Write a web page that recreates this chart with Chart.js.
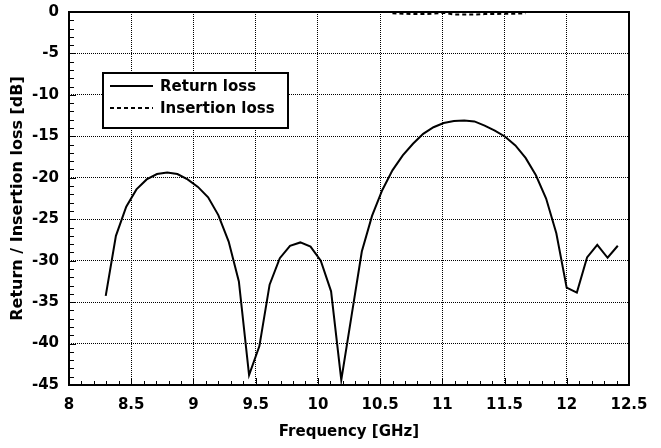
<!DOCTYPE html>
<html>
<head>
<meta charset="utf-8">
<script src="https://cdn.jsdelivr.net/npm/chart.js@4"></script>
<style>
  html, body { margin: 0; padding: 0; background: #fff; }
  #wrap { width: 661px; height: 448px; }
</style>
</head>
<body>
<div id="wrap"><canvas id="chart"></canvas></div>
<script>
// Frequency points [GHz]
const freq = [8.295, 8.377, 8.460, 8.542, 8.624, 8.707, 8.789, 8.871, 8.953, 9.036,
              9.118, 9.200, 9.283, 9.365, 9.447, 9.530, 9.612, 9.694, 9.776, 9.859,
              9.941, 10.023, 10.106, 10.188, 10.270, 10.353, 10.435, 10.517, 10.599, 10.682,
              10.764, 10.846, 10.929, 11.011, 11.093, 11.176, 11.258, 11.340, 11.422, 11.505,
              11.587, 11.669, 11.752, 11.834, 11.916, 11.999, 12.081, 12.163, 12.245, 12.328,
              12.410];

// Return loss [dB]
const returnLoss = [-34.25, -27.0, -23.5, -21.4, -20.2, -19.55, -19.35, -19.55, -20.2, -21.1,
                    -22.35, -24.5, -27.7, -32.5, -43.8, -40.3, -32.9, -29.7, -28.2, -27.8,
                    -28.3, -30.0, -33.7, -44.4, -36.7, -28.9, -24.6, -21.5, -19.1, -17.3,
                    -15.9, -14.7, -13.9, -13.4, -13.15, -13.1, -13.2, -13.7, -14.3, -15.05,
                    -16.1, -17.6, -19.7, -22.5, -26.7, -33.25, -33.85, -29.6, -28.1, -29.65,
                    -28.2];

// Insertion loss [dB], only measured in the passband
const insFreq = [10.599, 10.682, 10.764, 10.846, 10.929, 11.011, 11.093, 11.176, 11.258, 11.340,
                 11.422, 11.505, 11.587, 11.669];
const insertionLoss = [-0.15, -0.2, -0.25, -0.25, -0.2, -0.1, -0.3, -0.3, -0.3, -0.25,
                       -0.25, -0.2, -0.2, -0.15];

const FONT = '"DejaVu Sans", Verdana, sans-serif';

// Frame, inward ticks and the boxed legend
const decorations = {
    id: 'decorations',
    afterDraw(chart) {
        const ctx = chart.ctx;
        const area = chart.chartArea;
        const xs = chart.scales.x;
        const ys = chart.scales.y;
        ctx.save();
        ctx.strokeStyle = '#000';
        ctx.lineWidth = 1;
        ctx.beginPath();
        for (let i = 80; i <= 125; i++) {
            const px = Math.round(xs.getPixelForValue(i / 10)) + 0.5;
            const len = i % 5 === 0 ? 7 : 4;
            ctx.moveTo(px, area.bottom);
            ctx.lineTo(px, area.bottom - len);
        }
        for (let v = -45; v <= 0; v++) {
            const py = Math.round(ys.getPixelForValue(v)) + 0.5;
            const len = v % 5 === 0 ? 7 : 5;
            ctx.moveTo(area.left, py);
            ctx.lineTo(area.left + len, py);
        }
        ctx.stroke();

        ctx.lineWidth = 2;
        ctx.strokeRect(area.left, area.top, area.right - area.left, area.bottom - area.top);

        // legend box
        const bx = area.left + 34, by = area.top + 61, bw = 185, bh = 55;
        ctx.fillStyle = '#fff';
        ctx.fillRect(bx, by, bw, bh);
        ctx.strokeRect(bx, by, bw, bh);
        ctx.font = 'bold 15px ' + FONT;
        ctx.textBaseline = 'middle';
        chart.data.datasets.forEach((ds, i) => {
            const y = by + 13 + i * 22;
            ctx.beginPath();
            ctx.setLineDash(ds.borderDash || []);
            ctx.lineWidth = 2;
            ctx.moveTo(bx + 7, y);
            ctx.lineTo(bx + 50, y);
            ctx.stroke();
            ctx.setLineDash([]);
            ctx.fillStyle = '#000';
            ctx.fillText(ds.label, bx + 57, y + 1);
        });
        ctx.restore();
    }
};

const ctx = document.getElementById('chart').getContext('2d');
new Chart(ctx, {
    type: 'line',
    data: {
        datasets: [{
            label: 'Return loss',
            data: freq.map((f, i) => ({ x: f, y: returnLoss[i] })),
            borderColor: '#000',
            borderWidth: 2,
            pointRadius: 0,
            tension: 0,
            fill: false
        }, {
            label: 'Insertion loss',
            data: insFreq.map((f, i) => ({ x: f, y: insertionLoss[i] })),
            borderColor: '#000',
            borderWidth: 2,
            borderDash: [4, 3],
            pointRadius: 0,
            tension: 0,
            fill: false
        }]
    },
    options: {
        responsive: true,
        maintainAspectRatio: false,
        animation: false,
        layout: { padding: { top: 12, right: 32, left: 0, bottom: 0 } },
        plugins: {
            legend: { display: false },
            tooltip: { enabled: false }
        },
        scales: {
            x: {
                type: 'linear',
                min: 8,
                max: 12.5,
                afterFit(scale) {
                    scale.height = 63;
                    scale.paddingLeft = 0;
                    scale.paddingRight = 0;
                },
                ticks: {
                    stepSize: 0.5,
                    padding: 11,
                    color: '#000',
                    font: { family: FONT, size: 15, weight: 'bold' },
                    maxRotation: 0,
                    callback: v => String(Number(v))
                },
                grid: {
                    color: '#000',
                    lineWidth: 1,
                    drawTicks: false
                },
                border: { display: false, dash: [1, 1] },
                title: {
                    display: true,
                    text: 'Frequency [GHz]',
                    color: '#000',
                    font: { family: FONT, size: 15, weight: 'bold' },
                    padding: { top: 0, bottom: 7 }
                }
            },
            y: {
                min: -45,
                max: 0,
                afterFit(scale) {
                    scale.width = 69;
                    scale.paddingTop = 0;
                    scale.paddingBottom = 0;
                },
                ticks: {
                    stepSize: 5,
                    padding: 10,
                    color: '#000',
                    font: { family: FONT, size: 15, weight: 'bold' }
                },
                grid: {
                    color: '#000',
                    lineWidth: 1,
                    drawTicks: false
                },
                border: { display: false, dash: [1, 1] },
                title: {
                    display: true,
                    text: 'Return / Insertion loss [dB]',
                    color: '#000',
                    font: { family: FONT, size: 16, weight: 'bold' },
                    padding: { top: 8, bottom: 0 }
                }
            }
        }
    },
    plugins: [decorations]
});
</script>
</body>
</html>
